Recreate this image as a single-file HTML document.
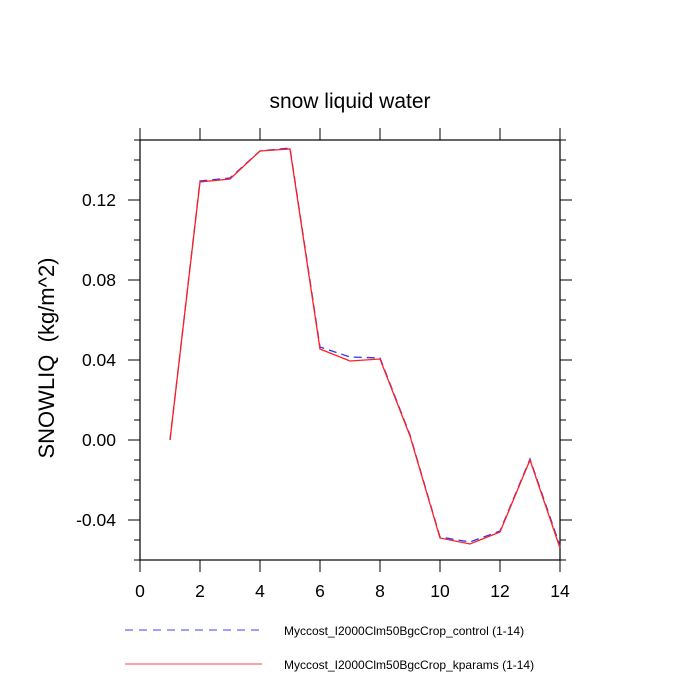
<!DOCTYPE html>
<html><head><meta charset="utf-8"><style>body{margin:0;background:#fff}svg{display:block;font-family:"Liberation Sans",sans-serif}</style></head>
<body>
<svg id="c" width="700" height="700">
<text x="350" y="108" text-anchor="middle" font-size="21">snow liquid water</text>
<text transform="translate(54,358) rotate(-90)" text-anchor="middle" font-size="22" style="white-space:pre">SNOWLIQ  (kg/m^2)</text>
<rect x="140" y="140" width="420" height="420" fill="none" stroke="#000" stroke-width="1.2"/>
<g id="ax"></g><g id="ser"></g>
<line x1="125" y1="630" x2="262" y2="630" stroke="#4040ff" stroke-dasharray="8,6"/>
<text x="284" y="635" font-size="12">Myccost_I2000Clm50BgcCrop_control (1-14)</text>
<line x1="125" y1="664" x2="262" y2="664" stroke="#ff4040"/>
<text x="284" y="669" font-size="12">Myccost_I2000Clm50BgcCrop_kparams (1-14)</text>
</svg>
<script>
const xs=[1,2,3,4,5,6,7,8,9,10,11,12,13,14];
const control=[0,0.1295,0.131,0.1445,0.146,0.0465,0.0415,0.041,0.0025,-0.0485,-0.051,-0.0455,-0.0095,-0.053];
const kparams=[0,0.129,0.1305,0.1445,0.1455,0.0455,0.0395,0.0405,0.002,-0.049,-0.052,-0.046,-0.01,-0.054];
const xTicks=[0,2,4,6,8,10,12,14];
const yTicks=[-0.04,0,0.04,0.08,0.12];
const yTickLabels=["-0.04","0.00","0.04","0.08","0.12"];
const X=v=>140+v*30, Y=v=>440-v*2000;
const ns="http://www.w3.org/2000/svg";
const ax=document.getElementById('ax'), ser=document.getElementById('ser');
function mk(t,a,p){const e=document.createElementNS(ns,t);for(const k in a)e.setAttribute(k,a[k]);p.appendChild(e);return e;}
xTicks.forEach(v=>{
 const l1=mk('line',{x1:X(v),x2:X(v),y1:560,y2:572,stroke:'#000'},ax);
 
 
 const l2=mk('line',{x1:X(v),x2:X(v),y1:128,y2:140,stroke:'#000'},ax);
 
 
 const t=mk('text',{x:X(v),y:597,'text-anchor':'middle','font-size':17.5},ax);t.textContent=v;
 
 
});
for(let i=-6;i<=15;i++){const v=i/100;const maj=(i%4===0);const L=maj?12:6;
 const a=mk('line',{x1:140-L,x2:140,y1:Y(v),y2:Y(v),stroke:'#000'},ax);
 
 
 const b=mk('line',{x1:560,x2:560+L,y1:Y(v),y2:Y(v),stroke:'#000'},ax);
 
 
}
yTicks.forEach((v,i)=>{const t=mk('text',{x:116,y:Y(v)+6,'text-anchor':'end','font-size':17.5},ax);t.textContent=yTickLabels[i];
 
 });
const p1=mk('polyline',{points:xs.map((x,i)=>X(x)+','+Y(control[i])).join(' '),fill:'none',stroke:'#3030ff','stroke-width':1.3,'stroke-dasharray':'8,5'},ser);


const p2=mk('polyline',{points:xs.map((x,i)=>X(x)+','+Y(kparams[i])).join(' '),fill:'none',stroke:'#ff2020','stroke-width':1.3},ser);


</script>
</body></html>
